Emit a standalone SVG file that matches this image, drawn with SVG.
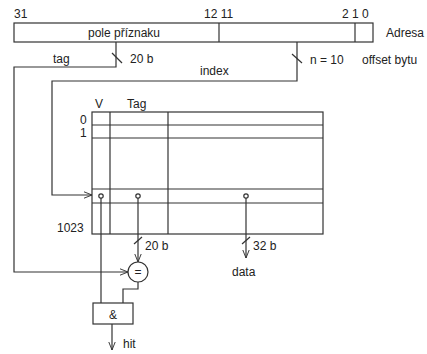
<svg xmlns="http://www.w3.org/2000/svg" width="427" height="354" viewBox="0 0 427 354">
<defs>
<marker id="arr" viewBox="0 0 10 10" refX="10" refY="5" markerWidth="8" markerHeight="8" orient="auto" markerUnits="userSpaceOnUse">
<path d="M0,1 L10,5 L0,9" fill="none" stroke="#333" stroke-width="1.2"/>
</marker>
<style>
.ln{fill:none;stroke:#333;stroke-width:1.2}
.bx{fill:#fff;stroke:#333;stroke-width:1.2}
.t{font-family:"Liberation Sans",Arial,sans-serif;font-size:12px;fill:#222}
.c{text-anchor:middle}
</style>
</defs>
<rect width="427" height="354" fill="#fff"/>
<g id="address">
<rect class="bx" x="14" y="23" width="359" height="19"/>
<line class="ln" x1="219" y1="23" x2="219" y2="42"/>
<line class="ln" x1="355" y1="23" x2="355" y2="42"/>
<text class="t" x="14" y="18">31</text>
<text class="t" x="204" y="18">12 11</text>
<text class="t" x="342" y="18">2 1 0</text>
<text class="t" x="386" y="37">Adresa</text>
<text class="t c" x="124" y="37">pole příznaku</text>
<text class="t" x="362" y="64">offset bytu</text>
</g>
<g id="table">
<rect class="bx" x="92" y="112" width="231" height="122"/>
<line class="ln" x1="92" y1="125" x2="323" y2="125"/>
<line class="ln" x1="92" y1="138" x2="323" y2="138"/>
<line class="ln" x1="92" y1="189" x2="323" y2="189"/>
<line class="ln" x1="92" y1="203" x2="323" y2="203"/>
<line class="ln" x1="110" y1="112" x2="110" y2="234"/>
<line class="ln" x1="168" y1="112" x2="168" y2="234"/>
<text class="t" x="95" y="108">V</text>
<text class="t" x="127" y="108">Tag</text>
<text class="t" x="80" y="124">0</text>
<text class="t" x="80" y="137">1</text>
<text class="t" x="57" y="232">1023</text>
</g>
<g id="comparator">
<circle class="bx" cx="138" cy="272" r="10"/>
<text class="t c" x="138" y="276">=</text>
</g>
<g id="and">
<rect class="bx" x="93" y="303" width="40" height="21"/>
<text class="t c" x="113" y="319">&amp;</text>
</g>
<g id="connectors">
<polyline class="ln" points="116,42 116,67 14,67 14,272 128,272" marker-end="url(#arr)"/>
<line class="ln" x1="112" y1="53" x2="122" y2="63"/>
<text class="t" x="53" y="63">tag</text>
<text class="t" x="130" y="63">20 b</text>
<polyline class="ln" points="297,42 297,81 52,81 52,195 92,195" marker-end="url(#arr)"/>
<line class="ln" x1="292" y1="54" x2="302" y2="63"/>
<text class="t" x="310" y="64">n = 10</text>
<text class="t" x="200" y="75">index</text>
<circle class="bx" cx="101" cy="196" r="2.2"/>
<circle class="bx" cx="138" cy="196" r="2.2"/>
<circle class="bx" cx="246" cy="196" r="2.2"/>
<line class="ln" x1="101" y1="198" x2="101" y2="303"/>
<line class="ln" x1="138" y1="198" x2="138" y2="262" marker-end="url(#arr)"/>
<line class="ln" x1="134" y1="244" x2="142" y2="237"/>
<text class="t" x="145" y="250">20 b</text>
<line class="ln" x1="246" y1="198" x2="246" y2="258" marker-end="url(#arr)"/>
<line class="ln" x1="242" y1="244" x2="250" y2="237"/>
<text class="t" x="253" y="250">32 b</text>
<text class="t" x="232" y="276">data</text>
<polyline class="ln" points="138,282 138,289 123,289 123,303"/>
<line class="ln" x1="112" y1="324" x2="112" y2="350" marker-end="url(#arr)"/>
<text class="t" x="123" y="348">hit</text>
</g>
</svg>
